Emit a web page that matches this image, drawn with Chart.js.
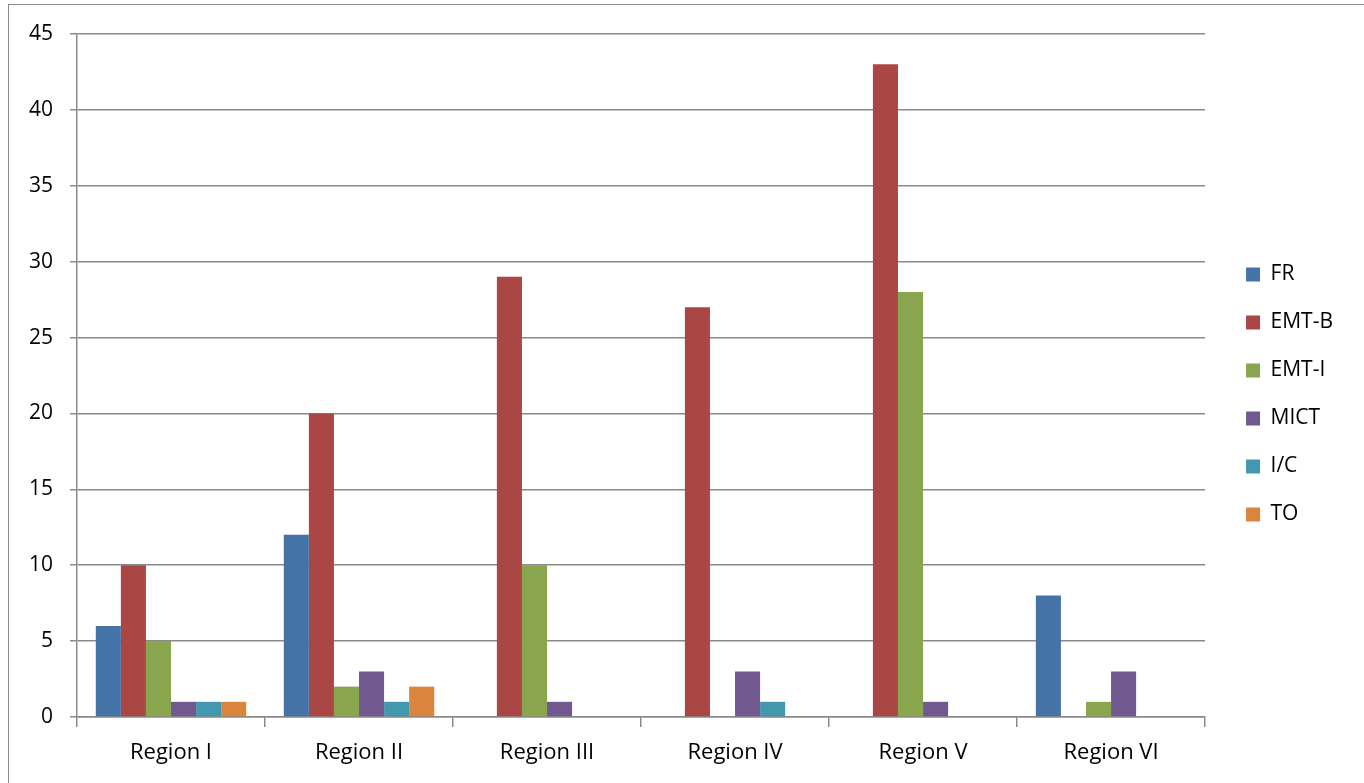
<!DOCTYPE html>
<html>
<head>
<meta charset="utf-8">
<script src="https://cdn.jsdelivr.net/npm/chart.js@4"></script>
<style>
  body { margin: 0; background: #fff; overflow: hidden; }
  #frame { position: absolute; left: 8px; top: 4px; width: 1400px; height: 820px; border: 1px solid #8c8c8c; }
  #wrap { position: absolute; left: 0; top: 0; width: 1364px; height: 783px; }
</style>
</head>
<body>
<div id="frame"></div>
<div id="wrap"><canvas id="myChart"></canvas></div>
<script>
// categories + series
const regions = ['Region I', 'Region II', 'Region III', 'Region IV', 'Region V', 'Region VI'];
const seriesNames = ['FR', 'EMT-B', 'EMT-I', 'MICT', 'I/C', 'TO'];
const frVals = [6, 12, 0, 0, 0, 8];
const emtbVals = [10, 20, 29, 27, 43, 0];
const emtiVals = [5, 2, 10, 0, 28, 1];
const mictVals = [1, 3, 1, 3, 1, 3];
const icVals = [1, 1, 0, 1, 0, 0];
const toVals = [1, 2, 0, 0, 0, 0];
const yTicks = [0, 5, 10, 15, 20, 25, 30, 35, 40, 45];

const colors = ['#4572A7', '#AA4643', '#89A54E', '#71588F', '#4198AF', '#DB843D'];
const allVals = [frVals, emtbVals, emtiVals, mictVals, icVals, toVals];

const FONT = '"Open Sans", Lato, sans-serif';
const GRID = '#8a8a8a';

// nudge the legend box to where it sits in the original
const legendNudge = {
  id: 'legendNudge',
  afterLayout(chart) {
    const lg = chart.legend;
    if (!lg) return;
    lg.left += 14; lg.right += 14;
    lg.top -= 14; lg.bottom -= 14;
  },
};

const ctx = document.getElementById('myChart').getContext('2d');
const chart = new Chart(ctx, {
  type: 'bar',
  data: {
    labels: regions,
    datasets: seriesNames.map((name, i) => ({
      label: name,
      data: allVals[i],
      backgroundColor: colors[i],
      borderWidth: 0,
      categoryPercentage: 0.8,
      barPercentage: 1.0,
    })),
  },
  options: {
    responsive: true,
    maintainAspectRatio: false,
    animation: false,
    layout: { padding: { top: 34, right: 35, left: 0, bottom: 0 } },
    plugins: {
      tooltip: { enabled: false },
      legend: {
        position: 'right',
        labels: {
          font: { family: FONT, size: 21 },
          color: '#000',
          boxWidth: 14,
          boxHeight: 14,
          padding: 27,
        },
      },
    },
    scales: {
      x: {
        grid: {
          offset: true,
          drawOnChartArea: false,
          color: GRID,
          lineWidth: 1.5,
          tickLength: 10,
        },
        border: { color: GRID, width: 1.5 },
        ticks: { font: { family: FONT, size: 22 }, color: '#000', padding: 13 },
        afterFit: (s) => { s.height = 66; },
      },
      y: {
        min: 0,
        max: 45,
        afterBuildTicks: (s) => { s.ticks = yTicks.map((v) => ({ value: v })); },
        grid: { color: GRID, lineWidth: 1.5, tickLength: 7 },
        border: { color: GRID, width: 1.5 },
        ticks: { font: { family: FONT, size: 21 }, color: '#000', padding: 17 },
        afterFit: (s) => { s.width = 77; },
      },
    },
  },
  plugins: [legendNudge],
});
</script>
</body>
</html>
